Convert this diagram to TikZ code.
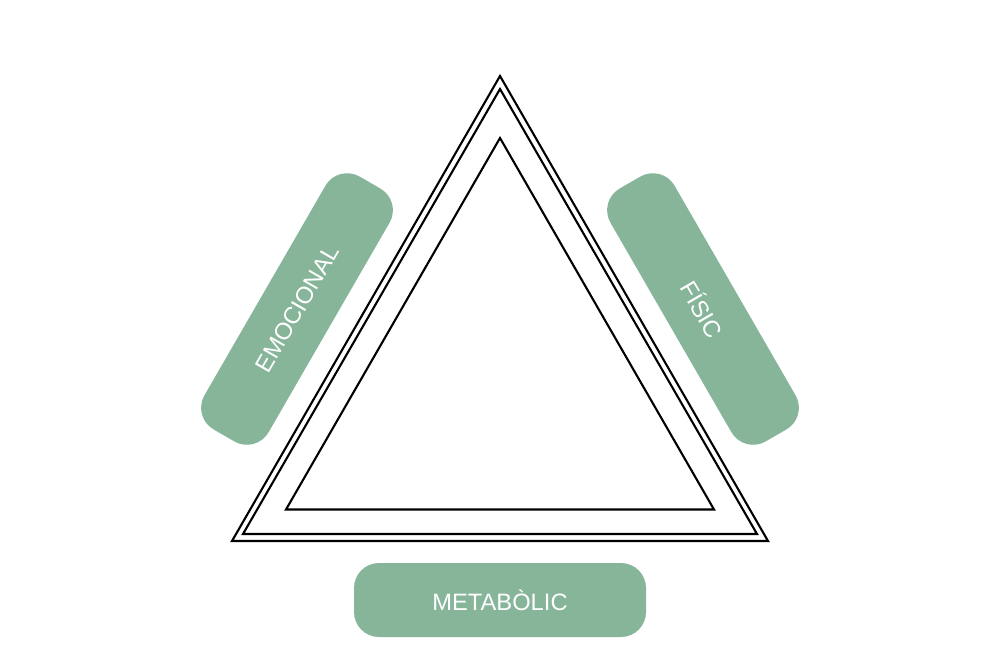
\documentclass[tikz,border=0pt]{standalone}
\usepackage{fontspec}
\setmainfont{Liberation Sans}
\definecolor{boxgreen}{HTML}{87B59A}
\begin{document}
\begin{tikzpicture}[x=1pt,y=-1pt,
  pill/.style={fill=boxgreen, draw=none, rounded corners=25pt, minimum width=292pt, minimum height=74pt, inner sep=0pt, text=white, font=\fontsize{23.7}{28}\selectfont},
  tri/.style={draw=black, line width=2.1pt, line join=miter}]
\useasboundingbox (0,0) rectangle (1000,667);
\fill[white] (0,0) rectangle (1000,667);
% triangles
\coordinate (o1) at (500,76);
\coordinate (o2) at (232,541);
\coordinate (o3) at (768,541);
\coordinate (m1) at (500,89);
\coordinate (m2) at (243,534);
\coordinate (m3) at (757,534);
\coordinate (i1) at (500,138);
\coordinate (i2) at (286,509.5);
\coordinate (i3) at (714,509.5);
\draw[tri] (o1) -- (o2) -- (o3) -- cycle;
\draw[tri] (m1) -- (m2) -- (m3) -- cycle;
\draw[tri] (i1) -- (i2) -- (i3) -- cycle;
% labels
\node[pill, rotate=60] (emo) at (297,309) {EMOCIONAL};
\node[pill, rotate=-60] (fis) at (703,309) {FÍSIC};
\node[pill] (met) at (500,600) {METABÒLIC};
\end{tikzpicture}
\end{document}
